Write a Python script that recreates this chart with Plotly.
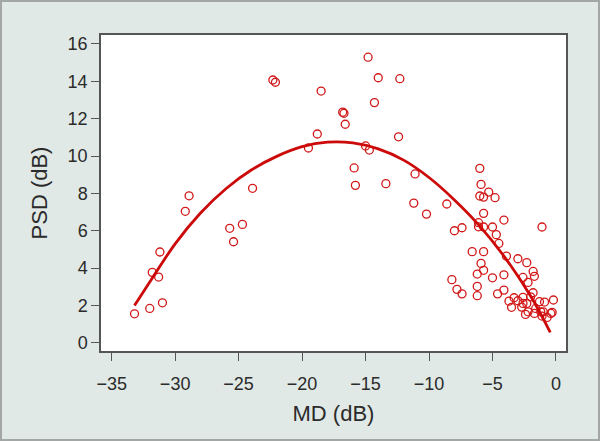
import plotly.graph_objects as go

# scatter points (MD, PSD)
md = [-22.3, -22.1, -18.5, -18.8, -19.5, -23.9, -28.9, -29.2, -16.8, -16.7,
      -25.7, -24.7, -25.4, -31.2, -31.8, -31.3, -31.0, -32.0, -33.2,
      -14.8, -14.0, -12.3, -14.3, -16.6, -12.4, -15.0, -14.7, -15.9, -15.8,
      -13.4, -11.1, -11.2, -8.6, -6.0, -5.9, -5.3, -6.0, -5.7, -4.8,
      -10.2, -5.7, -8.0, -7.4, -6.1, -6.1, -5.7, -4.1, -5.0, -4.7, -4.5,
      -1.1, -6.6, -5.7, -3.9, -5.9, -5.7, -6.2, -3.0, -2.3, -1.8, -1.7,
      -2.6, -2.2, -5.0, -4.1, -8.2, -7.8, -7.4, -6.2, -6.2, -4.6, -4.1,
      -1.8, -3.7, -3.3, -3.5, -3.0, -2.6, -2.6, -2.7, -2.0, -2.3, -2.4,
      -2.2, -1.7, -1.3, -0.9, -0.2, -1.2, -1.0, -1.1, -0.7, -0.4, -0.3, -1.6]
psd = [14.07, 13.95, 13.48, 11.18, 10.43, 8.27, 7.87, 7.04, 12.35, 12.29,
       6.13, 6.34, 5.41, 4.86, 3.77, 3.52, 2.14, 1.84, 1.55,
       15.29, 14.19, 14.14, 12.86, 11.7, 11.03, 10.54, 10.32, 9.36, 8.43,
       8.52, 9.04, 7.48, 7.43, 9.34, 8.48, 8.07, 7.86, 7.8, 7.77,
       6.89, 6.93, 6.0, 6.16, 6.43, 6.21, 6.2, 6.57, 6.2, 5.79, 5.32,
       6.2, 4.88, 4.88, 4.64, 4.25, 3.88, 3.68, 4.5, 4.29, 3.82, 3.56,
       3.5, 3.23, 3.48, 3.64, 3.38, 2.86, 2.62, 3.02, 2.52, 2.62, 2.82,
       2.68, 2.23, 2.41, 1.9, 2.25, 2.43, 2.11, 1.91, 2.46, 2.11, 1.52,
       1.66, 1.57, 2.2, 2.18, 2.29, 1.66, 1.66, 1.43, 1.36, 1.57, 1.63, 1.84]

# fitted curve
fit_md = [-33.2, -32, -30, -28, -26, -24, -22, -20, -18, -16, -14, -12,
          -10, -8, -6, -4, -2, -0.45]
fit_psd = [2.0, 3.25, 5.3, 6.95, 8.25, 9.25, 9.98, 10.5, 10.74, 10.7, 10.38, 9.78,
           8.85, 7.65, 6.25, 4.55, 2.5, 0.56]

red = "#d21818"
txt = "#2b2b2b"

fig = go.Figure()
fig.add_trace(go.Scatter(x=md, y=psd, mode="markers",
                         marker=dict(symbol="circle-open", size=8, color=red, line=dict(width=1.3))))
fig.add_trace(go.Scatter(x=fit_md, y=fit_psd, mode="lines",
                         line=dict(color="#cc0a0a", width=2.8, shape="spline")))

L, R, T, B = 101, 34, 35, 90
W, H = 600, 441
pw, ph = W - L - R, H - T - B

fig.update_layout(
    width=W, height=H,
    margin=dict(l=L, r=R, t=T, b=B),
    paper_bgcolor="#e0e9e5", plot_bgcolor="white",
    showlegend=False,
    font=dict(family="Liberation Sans, Arial, sans-serif", size=18, color=txt),
    xaxis=dict(range=[-35.84, 0.79], tickvals=[-35, -30, -25, -20, -15, -10, -5, 0],
               showgrid=False, zeroline=False, showline=True, mirror=True,
               linecolor="#555555", linewidth=1.5, ticks="outside", ticklen=8,
               tickcolor="#555555", tickwidth=1.3, ticklabelstandoff=8,
               title=dict(text="MD (dB)", standoff=12)),
    yaxis=dict(range=[-0.44, 16.48], tickvals=[0, 2, 4, 6, 8, 10, 12, 14, 16],
               showgrid=False, zeroline=False, showline=True, mirror=True,
               linecolor="#555555", linewidth=1.5, ticks="outside", ticklen=8,
               tickcolor="#555555", tickwidth=1.3,
               title=dict(text="PSD (dB)", standoff=14)),
    # outer grey frame round the whole figure
    shapes=[dict(type="rect", xref="paper", yref="paper",
                 x0=(1 - L) / pw, x1=(W - 1 - L) / pw,
                 y0=1 - (H - 1 - T) / ph, y1=1 - (1 - T) / ph,
                 line=dict(color="#a3a8a6", width=2))],
)

fig.write_html("out.html", config={"displayModeBar": False},
               post_script="document.body.style.margin='0';")
